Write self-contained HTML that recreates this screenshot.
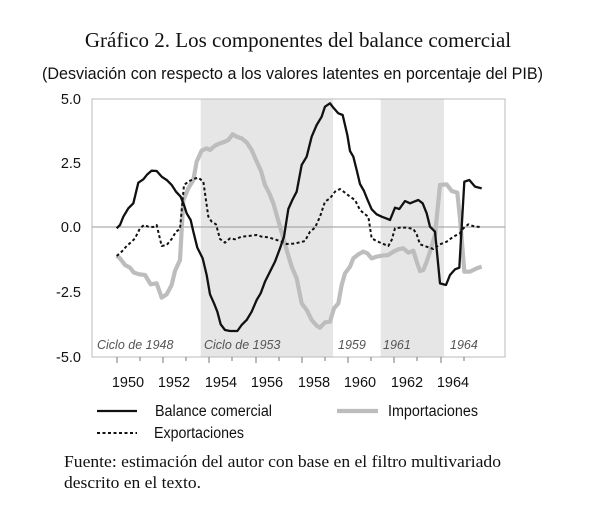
<!DOCTYPE html>
<html><head><meta charset="utf-8"><style>
html,body{margin:0;padding:0;background:#fff;width:600px;height:519px;overflow:hidden}
</style></head><body>
<svg width="600" height="519" viewBox="0 0 600 519" xmlns="http://www.w3.org/2000/svg">
<rect width="600" height="519" fill="#fff"/>
<text x="298" y="47" font-family="Liberation Serif, serif" font-size="21" text-anchor="middle" fill="#111">Gráfico 2. Los componentes del balance comercial</text>
<text x="42" y="79" font-family="Liberation Sans, sans-serif" font-size="17" textLength="501" lengthAdjust="spacingAndGlyphs" fill="#111">(Desviación con respecto a los valores latentes en porcentaje del PIB)</text>
<rect x="200.7" y="99" width="132.3" height="258" fill="#e6e6e6"/>
<rect x="380.7" y="99" width="63.3" height="258" fill="#e6e6e6"/>
<rect x="92" y="99" width="413" height="258" fill="none" stroke="#bbb" stroke-width="1"/>
<line x1="92" y1="227" x2="505" y2="227" stroke="#999" stroke-width="1"/>
<g stroke="#777" stroke-width="1">
<line x1="117" y1="357" x2="117" y2="363"/><line x1="140" y1="357" x2="140" y2="361"/><line x1="163" y1="357" x2="163" y2="363"/><line x1="186" y1="357" x2="186" y2="361"/><line x1="209" y1="357" x2="209" y2="363"/><line x1="232" y1="357" x2="232" y2="361"/><line x1="256" y1="357" x2="256" y2="363"/><line x1="279" y1="357" x2="279" y2="361"/><line x1="302" y1="357" x2="302" y2="363"/><line x1="325" y1="357" x2="325" y2="361"/><line x1="348" y1="357" x2="348" y2="363"/><line x1="371" y1="357" x2="371" y2="361"/><line x1="394" y1="357" x2="394" y2="363"/><line x1="417" y1="357" x2="417" y2="361"/><line x1="441" y1="357" x2="441" y2="363"/><line x1="464" y1="357" x2="464" y2="361"/>
</g>
<g font-family="Liberation Sans, sans-serif" font-size="14.5" fill="#111" text-anchor="end">
<text x="81" y="104">5.0</text><text x="81" y="168">2.5</text><text x="81" y="232">0.0</text><text x="81" y="297">-2.5</text><text x="81" y="362">-5.0</text>
</g>
<g font-family="Liberation Sans, sans-serif" font-size="14.5" fill="#111" text-anchor="middle">
<text x="128" y="387">1950</text><text x="174" y="387">1952</text><text x="221" y="387">1954</text><text x="267" y="387">1956</text><text x="314" y="387">1958</text><text x="360" y="387">1960</text><text x="407" y="387">1962</text><text x="453" y="387">1964</text>
</g>
<g font-family="Liberation Sans, sans-serif" font-size="12.5" font-style="italic" fill="#555">
<text x="97" y="349">Ciclo de 1948</text><text x="204" y="349">Ciclo de 1953</text><text x="338" y="349">1959</text><text x="383" y="349">1961</text><text x="450" y="349">1964</text>
</g>
<g transform="translate(60,85) scale(0.33333)" fill="none" stroke-linejoin="round">
<polyline vector-effect="non-scaling-stroke" stroke="#bdbdbd" stroke-width="4.2" points="170,512 180,520 195,540 210,548 222,563 238,568 255,570 272,598 290,595 305,638 320,628 335,600 345,558 360,525 370,345 385,310 400,285 410,230 425,197 440,190 450,195 465,182 480,175 495,170 505,165 518,148 530,155 545,160 560,172 575,195 588,225 603,258 615,300 628,325 640,355 650,390 660,425 670,460 683,505 695,545 710,580 725,655 740,675 755,705 770,722 780,728 795,712 810,710 822,670 835,655 845,600 855,565 870,545 880,520 895,508 910,500 922,505 935,520 950,515 965,512 985,510 1000,500 1015,493 1030,490 1045,503 1060,497 1070,530 1080,558 1090,555 1100,530 1110,500 1125,450 1140,300 1160,298 1175,318 1192,323 1200,400 1213,560 1230,560 1250,550 1265,545"/>
<polyline vector-effect="non-scaling-stroke" stroke="#111" stroke-width="2" stroke-dasharray="3,2.5" points="170,513 185,500 200,483 215,470 225,460 240,430 252,420 265,425 280,426 290,420 305,483 320,480 335,462 348,440 360,432 372,300 385,290 400,282 415,278 430,290 445,395 455,410 468,418 480,462 495,473 510,460 525,463 545,455 565,453 590,450 605,455 625,457 645,463 665,470 680,477 700,476 720,472 735,468 750,440 765,428 780,395 795,350 810,340 825,320 840,312 855,323 870,335 885,345 900,375 915,388 925,395 935,460 950,468 965,475 985,483 995,465 1005,430 1020,428 1040,428 1060,432 1070,448 1080,478 1100,485 1120,492 1140,478 1160,470 1180,455 1200,445 1210,430 1225,418 1245,425 1265,426"/>
<polyline vector-effect="non-scaling-stroke" stroke="#111" stroke-width="2.3" points="170,430 180,420 190,395 205,370 220,355 235,293 250,283 262,268 275,257 290,258 305,275 320,285 335,300 348,320 362,335 372,360 380,385 392,405 400,440 412,488 428,520 440,570 450,628 462,655 472,680 482,718 495,735 510,738 532,738 545,720 560,705 575,680 590,645 602,625 615,590 630,560 645,530 660,490 672,455 685,372 697,345 710,320 725,240 740,215 755,155 770,120 785,95 795,65 810,55 820,68 835,85 848,90 862,150 870,198 880,215 890,255 900,297 912,318 922,343 935,373 950,388 965,395 978,400 990,405 1005,368 1018,372 1035,348 1050,355 1062,350 1075,345 1088,355 1100,385 1110,425 1125,440 1140,595 1158,600 1170,570 1185,553 1198,548 1213,290 1228,285 1245,305 1265,310"/>
</g>
<line x1="97" y1="411" x2="137" y2="411" stroke="#111" stroke-width="2.3"/>
<line x1="337" y1="411" x2="378" y2="411" stroke="#bdbdbd" stroke-width="4.2"/>
<line x1="97" y1="433" x2="137" y2="433" stroke="#111" stroke-width="2" stroke-dasharray="3,2.5"/>
<g font-family="Liberation Sans, sans-serif" font-size="15.5" fill="#111">
<text x="155" y="416" textLength="117" lengthAdjust="spacingAndGlyphs">Balance comercial</text>
<text x="388" y="416" textLength="90" lengthAdjust="spacingAndGlyphs">Importaciones</text>
<text x="154" y="438" textLength="90" lengthAdjust="spacingAndGlyphs">Exportaciones</text>
</g>
<g font-family="Liberation Serif, serif" font-size="16.5" fill="#111">
<text x="64" y="467" textLength="437" lengthAdjust="spacingAndGlyphs">Fuente: estimación del autor con base en el filtro multivariado</text>
<text x="64" y="488" textLength="137" lengthAdjust="spacingAndGlyphs">descrito en el texto.</text>
</g>
</svg>
</body></html>
